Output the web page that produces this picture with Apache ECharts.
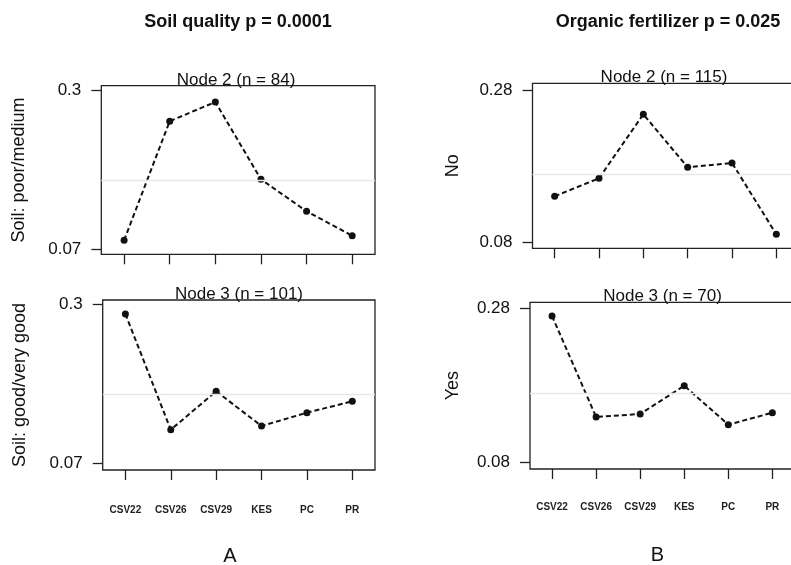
<!DOCTYPE html>
<html>
<head>
<meta charset="utf-8">
<script src="https://cdn.jsdelivr.net/npm/echarts@6/dist/echarts.min.js"></script>
<style>
	html, body { margin: 0; padding: 0; background: #fff; }
	#chartsWrap { width: 791px; height: 565px; }
</style>
</head>
<body>
<div id="chartsWrap"></div>
<script>
// categories (cultivars)
let categories = ['CSV22', 'CSV26', 'CSV29', 'KES', 'PC', 'PR'];

// A: soil quality
let soilPoorMedium = [0.083, 0.255, 0.2827, 0.171, 0.1249, 0.0896];
let soilGoodVeryGood = [0.286, 0.119, 0.1745, 0.1244, 0.1436, 0.160];
// B: organic fertilizer
let fertilizerNo = [0.1404, 0.1641, 0.2481, 0.1785, 0.1842, 0.0905];
let fertilizerYes = [0.2705, 0.139, 0.1429, 0.1797, 0.129, 0.1446];

// tick labels on y axes
let ticksA = [0.07, 0.3];
let ticksB = [0.08, 0.28];
let refLevel = 0.1667;

let dom = document.getElementById('chartsWrap');
let chart = echarts.init(dom);

let textColor = '#111';
let font = 'Liberation Sans, Arial, sans-serif';

// panel layout: grid box + y range
let panels = [
	{ name: 'Soil: poor/medium', data: soilPoorMedium, ticks: ticksA, min: 0.0628, max: 0.3062,
		grid: { left: 101.3, top: 85.7, width: 273.7, height: 168.6 }, labels: false, nameGap: 73 },
	{ name: 'Soil: good/very good', data: soilGoodVeryGood, ticks: ticksA, min: 0.0609, max: 0.3062,
		grid: { left: 102.7, top: 300, width: 272.3, height: 170 }, labels: true, nameGap: 74, labelMargin: 35 },
	{ name: 'No', data: fertilizerNo, ticks: ticksB, min: 0.0721, max: 0.2888,
		grid: { left: 532.5, top: 83.3, width: 266, height: 165 }, labels: false, nameGap: 70 },
	{ name: 'Yes', data: fertilizerYes, ticks: ticksB, min: 0.0713, max: 0.2883,
		grid: { left: 530, top: 302.3, width: 264.4, height: 166.7 }, labels: true, nameGap: 68, labelMargin: 33 }
];

let grids = [], xAxes = [], yAxes = [], series = [];
panels.map((p, i) => {
	grids.push({
		show: true,
		left: p.grid.left,
		top: p.grid.top,
		width: p.grid.width,
		height: p.grid.height,
		outerBoundsMode: 'none',
		containLabel: false,
		borderColor: '#222',
		borderWidth: 1.3,
		backgroundColor: 'transparent'
	});
	xAxes.push({
		type: 'category',
		gridIndex: i,
		data: categories,
		boundaryGap: true,
		axisLine: { show: false },
		axisTick: { show: true, alignWithLabel: true, length: 10, lineStyle: { color: '#222', width: 1.3 } },
		axisLabel: {
			show: p.labels,
			interval: 0,
			margin: p.labelMargin || 30,
			fontSize: 10,
			fontWeight: 'bold',
			fontFamily: font,
			color: '#222'
		},
		splitLine: { show: false }
	});
	yAxes.push({
		type: 'value',
		gridIndex: i,
		min: p.min,
		max: p.max,
		name: p.name,
		nameLocation: 'middle',
		nameRotate: 90,
		nameGap: p.nameGap,
		nameTextStyle: { fontSize: 18, color: textColor, fontFamily: font },
		axisLine: { show: false },
		axisTick: { show: true, length: 10, customValues: p.ticks, lineStyle: { color: '#222', width: 1.3 } },
		axisLabel: { margin: 20, customValues: p.ticks, fontSize: 17, color: textColor, fontFamily: font },
		splitLine: { show: false }
	});
	series.push({
		type: 'line',
		xAxisIndex: i,
		yAxisIndex: i,
		data: p.data,
		symbol: 'circle',
		symbolSize: 7,
		itemStyle: { color: '#111' },
		lineStyle: { color: '#111', width: 2, type: [5, 3] },
		animation: false,
		markLine: {
			silent: true,
			symbol: 'none',
			label: { show: false },
			lineStyle: { color: '#e8e8e8', type: 'solid', width: 1.3 },
			data: [{ yAxis: refLevel }]
		}
	});
});

function titleItem(text, x, y, size, weight, va) {
	return {
		text: text,
		left: x,
		top: y,
		padding: 0,
		textAlign: 'center',
		textVerticalAlign: va || 'middle',
		textStyle: { fontSize: size, fontWeight: weight || 'normal', color: textColor, fontFamily: font }
	};
}

let option = {
	animation: false,
	backgroundColor: '#fff',
	title: [
		titleItem('Soil quality p = 0.0001', 238, 22, 18, 'bold'),
		titleItem('Organic fertilizer p = 0.025', 668, 22, 18, 'bold'),
		titleItem('Node 2 (n = 84)', 236, 88.5, 17, 'normal', 'bottom'),
		titleItem('Node 3 (n = 101)', 239, 303, 17, 'normal', 'bottom'),
		titleItem('Node 2 (n = 115)', 664, 86, 17, 'normal', 'bottom'),
		titleItem('Node 3 (n = 70)', 662.5, 305, 17, 'normal', 'bottom'),
		titleItem('A', 230, 556, 20),
		titleItem('B', 657.5, 555, 20)
	],
	grid: grids,
	xAxis: xAxes,
	yAxis: yAxes,
	series: series
};
chart.setOption(option);
</script>
</body>
</html>
